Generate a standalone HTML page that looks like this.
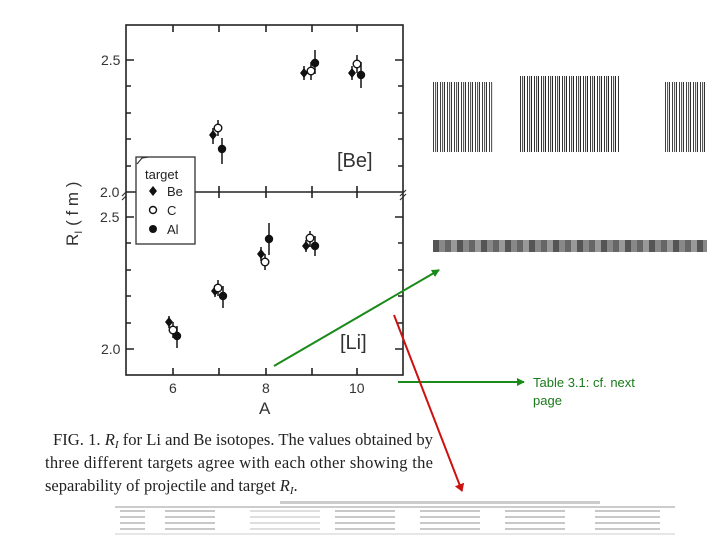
<!DOCTYPE html>
<html><head><meta charset="utf-8"><style>
html,body{margin:0;padding:0;background:#fff;}
body{width:720px;height:540px;overflow:hidden;position:relative;}
.bc{position:absolute;background:repeating-linear-gradient(90deg,#111 0 1px,#fff 1px 2px,#333 2px 3px,#ddd 3px 4px,#000 4px 5px,#fff 5px 7px);}
.tb{position:absolute;background:repeating-linear-gradient(0deg,#c8c8c8 0 2px,#fff 2px 6px);}
</style></head><body>
<svg width="720" height="540" viewBox="0 0 720 540" xmlns="http://www.w3.org/2000/svg" style="position:absolute;left:0;top:0">
<defs>
<marker id="ag" markerWidth="8" markerHeight="8" refX="7" refY="4" orient="auto" markerUnits="userSpaceOnUse"><path d="M0,0 L8,4 L0,8 z" fill="#1a8a1a"/></marker>
<marker id="ar" markerWidth="8" markerHeight="10" refX="7" refY="5" orient="auto" markerUnits="userSpaceOnUse"><path d="M0,0 L8,5 L0,10 z" fill="#cc1111"/></marker>
</defs>
<g stroke="#222" stroke-width="1.6" fill="none">
<rect x="126" y="25" width="277" height="350"/>
<line x1="126" y1="192" x2="403" y2="192"/>
<path d="M126 60h8M403 60h-8M126 86h5M403 86h-5M126 113h5M403 113h-5M126 139h5M403 139h-5M126 166h5M403 166h-5"/>
<path d="M126 217h8M403 217h-8M126 243h5M403 243h-5M126 270h5M403 270h-5M126 296h5M403 296h-5M126 323h5M403 323h-5M126 349h8M403 349h-8"/>
<path d="M173 375v-7M219 375v-7M266 375v-7M312 375v-7M357 375v-7M173 25v7M219 25v7M266 25v7M312 25v7M357 25v7M173 192v-6M219 192v-6M266 192v-6M312 192v-6M357 192v-6M173 192v6M219 192v6M266 192v6M312 192v6M357 192v6"/>
<path d="M213 128v16M218 120v16M222 138v26M304 66v14M311 62v18M315 50v24M352 66v14M357 55v18M361 62v26"/>
<path d="M169 316v12M173 322v16M177 326v22M215 285v12M218 280v16M223 286v22M261 247v14M265 254v16M269 223v32M306 240v12M310 231v16M315 236v20"/>
</g>
<path d="M122 196l4 -4M122 200l4 -4M400 196l6 -6M400 200l6 -6" stroke="#333" stroke-width="1.2"/>
<g fill="#111">
<path d="M213 130l4 5 -4 5 -4 -5z"/><circle cx="222" cy="149" r="4.2"/>
<path d="M304 68l4 5 -4 5 -4 -5z"/><circle cx="315" cy="63" r="4.2"/>
<path d="M352 68l4 5 -4 5 -4 -5z"/><circle cx="361" cy="75" r="4.2"/>
<path d="M169 317l4 5 -4 5 -4 -5z"/><circle cx="177" cy="336" r="4.2"/>
<path d="M215 286l4 5 -4 5 -4 -5z"/><circle cx="223" cy="296" r="4.2"/>
<path d="M261 249l4 5 -4 5 -4 -5z"/><circle cx="269" cy="239" r="4.2"/>
<path d="M306 241l4 5 -4 5 -4 -5z"/><circle cx="315" cy="246" r="4.2"/>
</g>
<g fill="#fff" stroke="#111" stroke-width="1.4">
<circle cx="218" cy="128" r="3.8"/><circle cx="311" cy="71" r="3.8"/><circle cx="357" cy="64" r="3.8"/>
<circle cx="173" cy="330" r="3.8"/><circle cx="218" cy="288" r="3.8"/><circle cx="265" cy="262" r="3.8"/><circle cx="310" cy="238" r="3.8"/>
</g>
<rect x="136" y="157" width="59" height="87" fill="#fff" stroke="#333" stroke-width="1.3"/>
<path d="M137 164l5 -6 6 -1" stroke="#333" fill="none" stroke-width="1.2"/>
<g font-family="Liberation Sans, sans-serif" font-size="13" fill="#222">
<text x="145" y="179">target</text>
<path d="M153 186l4 5 -4 5 -4 -5z" fill="#111"/><text x="167" y="196">Be</text>
<circle cx="153" cy="210" r="3.5" fill="#fff" stroke="#111" stroke-width="1.4"/><text x="167" y="215">C</text>
<circle cx="153" cy="229" r="4" fill="#111"/><text x="167" y="234">Al</text>
</g>
<g font-family="Liberation Sans, sans-serif" font-size="14" fill="#333">
<text x="101" y="65">2.5</text>
<text x="100" y="197">2.0</text>
<text x="100" y="222">2.5</text>
<text x="101" y="354">2.0</text>
<text x="169" y="393">6</text><text x="262" y="393">8</text><text x="349" y="393">10</text>
<text x="259" y="414" font-size="17">A</text>
<text x="337" y="167" font-size="20">[Be]</text>
<text x="340" y="349" font-size="20">[Li]</text>
<text transform="translate(78,246) rotate(-90)" font-size="17">R<tspan font-size="11" dy="4">I</tspan><tspan dy="-4">   ( f m )</tspan></text>
</g>
<g font-family="Liberation Serif, serif" font-size="16.5" fill="#222">
<text x="53" y="445" textLength="380" lengthAdjust="spacingAndGlyphs">FIG. 1.  <tspan font-style="italic">R<tspan font-size="11" dy="3">I</tspan></tspan><tspan dy="-3"> for Li and Be isotopes.  The values obtained by</tspan></text>
<text x="45" y="468" textLength="388" lengthAdjust="spacing">three different targets agree with each other showing the</text>
<text x="45" y="491">separability of projectile and target <tspan font-style="italic">R<tspan font-size="11" dy="3">I</tspan></tspan><tspan dy="-3">.</tspan></text>
</g>
<line x1="274" y1="366" x2="439" y2="270" stroke="#1a8a1a" stroke-width="2" marker-end="url(#ag)"/>
<line x1="398" y1="382" x2="524" y2="382" stroke="#1a8a1a" stroke-width="2" marker-end="url(#ag)"/>
<line x1="394" y1="315" x2="462" y2="491" stroke="#cc1111" stroke-width="2" marker-end="url(#ar)"/>
<g font-family="Liberation Sans, sans-serif" font-size="13" fill="#1a7a1a">
<text x="533" y="387">Table 3.1: cf. next</text>
<text x="533" y="405">page</text>
</g>
<line x1="115" y1="507" x2="675" y2="507" stroke="#999" stroke-width="1"/>
<line x1="115" y1="534" x2="675" y2="534" stroke="#ccc" stroke-width="1"/>
<rect x="280" y="501" width="320" height="3" fill="#ccc"/>
</svg>
<div class="tb" style="left:120px;top:510px;width:25px;height:20px"></div>
<div class="tb" style="left:165px;top:510px;width:50px;height:20px"></div>
<div class="tb" style="left:250px;top:510px;width:70px;height:20px;opacity:.6"></div>
<div class="tb" style="left:335px;top:510px;width:60px;height:20px"></div>
<div class="tb" style="left:420px;top:510px;width:60px;height:20px"></div>
<div class="tb" style="left:505px;top:510px;width:60px;height:20px"></div>
<div class="tb" style="left:595px;top:510px;width:65px;height:20px"></div>
<div class="bc" style="left:433px;top:82px;width:60px;height:70px;opacity:.8"></div>
<div class="bc" style="left:520px;top:76px;width:100px;height:76px;opacity:.85"></div>
<div class="bc" style="left:665px;top:82px;width:42px;height:70px;opacity:.8"></div>
<div style="position:absolute;left:433px;top:240px;width:274px;height:12px;background:repeating-linear-gradient(90deg,#555 0 6px,#888 6px 12px,#666 12px 18px,#999 18px 24px);"></div>
</body></html>
